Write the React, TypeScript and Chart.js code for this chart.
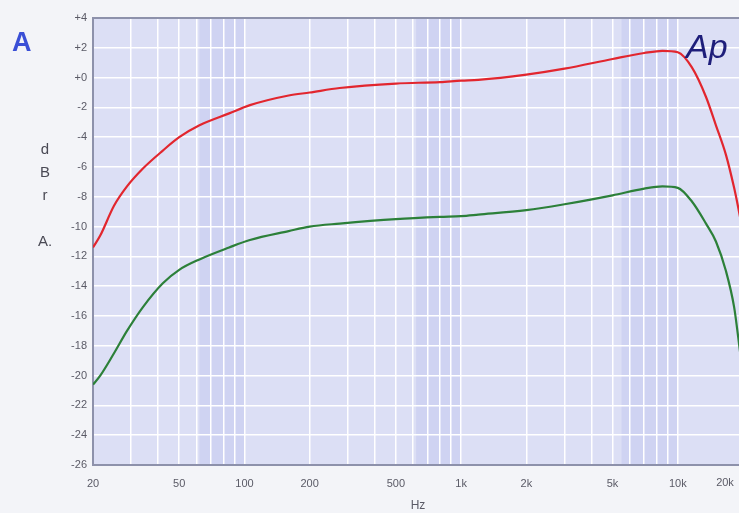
import React, { useEffect, useRef } from 'react';
import { Chart, registerables } from 'chart.js';

Chart.register(...registerables);

// Frequencies (Hz) at which the curves were read
const freqHz = [20, 21.6, 25, 28.7, 34, 42, 50, 62, 85, 106, 160, 200, 275, 500, 800, 1000, 1200, 2000, 3000, 5000, 7000, 8500, 10000, 11600, 13500, 15000, 16700, 18200, 19000, 20000];
// Upper (red) response, dBr A
const redDb = [-11.4, -10.6, -8.6, -7.3, -6.1, -4.9, -4.0, -3.2, -2.4, -1.85, -1.2, -1.0, -0.7, -0.4, -0.3, -0.2, -0.15, 0.2, 0.6, 1.25, 1.65, 1.8, 1.7, 0.7, -1.3, -3.2, -5.2, -7.4, -8.7, -10.4];
// Lower (green) response, dBr A
const greenDb = [-20.6, -20.0, -18.5, -17.0, -15.4, -13.8, -12.9, -12.2, -11.4, -10.9, -10.3, -10.0, -9.8, -9.5, -9.35, -9.3, -9.2, -8.9, -8.5, -7.9, -7.45, -7.3, -7.4, -8.3, -9.8, -11.0, -13.0, -15.4, -17.4, -20.0];

// Axis ticks
const xGridHz = [20, 30, 40, 50, 60, 70, 80, 90, 100, 200, 300, 400, 500, 600, 700, 800, 900, 1000, 2000, 3000, 4000, 5000, 6000, 7000, 8000, 9000, 10000, 20000];
const xLabelHz = [20, 50, 100, 200, 500, 1000, 2000, 5000, 10000];
const xLabelText = ['20', '50', '100', '200', '500', '1k', '2k', '5k', '10k'];
const xLastLabelHz = 20000;
const xLastLabelText = '20k';
const yMin = -26;
const yMax = 4;
const yStep = 2;

// darker shaded frequency bands of the scanned plot background [from, to] Hz
const shadeBandsHz = [[62, 100], [620, 1000], [5500, 10000]];

const unitLetters = ['d', 'B', 'r', '', 'A.'];

const FONT = '"Liberation Sans", Arial, sans-serif';

export default function App() {
  const ref = useRef<HTMLCanvasElement | null>(null);

  useEffect(() => {
    const canvas = ref.current;
    if (!canvas) return;

    const decor = {
      id: 'decor',
      beforeDraw(chart: any) {
        const { ctx, chartArea: a } = chart;
        const xs = chart.scales.x;
        ctx.save();
        ctx.fillStyle = '#dcdff5';
        ctx.fillRect(a.left, a.top, a.right - a.left, a.bottom - a.top);
        ctx.fillStyle = '#cfd3f2';
        shadeBandsHz.forEach(([f0, f1]) => {
          const x0 = xs.getPixelForValue(f0);
          const x1 = xs.getPixelForValue(f1);
          ctx.fillRect(x0, a.top, x1 - x0, a.bottom - a.top);
        });
        ctx.restore();
      },
      beforeDatasetsDraw(chart: any) {
        const { ctx, chartArea: a } = chart;
        ctx.save();
        ctx.strokeStyle = '#8d91ab';
        ctx.lineWidth = 2;
        ctx.strokeRect(a.left, a.top, a.right - a.left, a.bottom - a.top);
        ctx.restore();
      },
      afterDraw(chart: any) {
        const { ctx, chartArea: a } = chart;
        const xs = chart.scales.x;
        ctx.save();
        // last x label, shifted inwards as in the original plot
        ctx.fillStyle = '#5a5a66';
        ctx.font = '11px ' + FONT;
        ctx.textAlign = 'center';
        ctx.textBaseline = 'middle';
        ctx.fillText(xLastLabelText, xs.getPixelForValue(xLastLabelHz) - 18, a.bottom + 18);
        // blue panel letter
        ctx.fillStyle = '#3a4fd6';
        ctx.font = 'bold 27px ' + FONT;
        ctx.textAlign = 'left';
        ctx.textBaseline = 'alphabetic';
        ctx.fillText('A', 12, 51);
        // unit letters
        ctx.fillStyle = '#4a4a55';
        ctx.font = '15px ' + FONT;
        ctx.textAlign = 'center';
        const ys = [154, 177, 200, 222, 246];
        unitLetters.forEach((t, i) => {
          if (t) ctx.fillText(t, 45, ys[i]);
        });
        // Ap logo
        ctx.fillStyle = '#1e1e7a';
        ctx.font = 'italic 34px ' + FONT;
        ctx.textAlign = 'left';
        ctx.fillText('Ap', 686, 58);
        ctx.restore();
      },
    };

    const chart = new Chart(canvas, {
      type: 'line',
      data: {
        datasets: [
          {
            label: 'upper',
            data: freqHz.map((f, i) => ({ x: f, y: redDb[i] })),
            borderColor: '#e2262e',
            borderWidth: 2.2,
            pointRadius: 0,
            cubicInterpolationMode: 'monotone',
            fill: false,
          },
          {
            label: 'lower',
            data: freqHz.map((f, i) => ({ x: f, y: greenDb[i] })),
            borderColor: '#2c8039',
            borderWidth: 2.2,
            pointRadius: 0,
            cubicInterpolationMode: 'monotone',
            fill: false,
          },
        ],
      },
      options: {
        responsive: false,
        animation: false,
        devicePixelRatio: 1,
        layout: { padding: { top: 18, right: 17, left: 0, bottom: 0 } },
        plugins: {
          legend: { display: false },
          tooltip: { enabled: false },
        },
        scales: {
          x: {
            type: 'logarithmic',
            min: 20,
            max: 20000,
            afterBuildTicks: (scale: any) => {
              scale.ticks = xGridHz.map((v) => ({ value: v }));
            },
            afterFit: (scale: any) => {
              scale.height = 48;
              scale.paddingLeft = 0;
              scale.paddingRight = 0;
            },
            ticks: {
              autoSkip: false,
              maxRotation: 0,
              padding: 12,
              color: '#5a5a66',
              font: { family: FONT, size: 11 },
              callback: (value: any) => {
                const idx = xLabelHz.indexOf(Number(value));
                return idx >= 0 ? xLabelText[idx] : '';
              },
            },
            grid: { color: '#ffffff', lineWidth: 1.5, drawTicks: false },
            border: { display: false },
            title: {
              display: true,
              text: 'Hz',
              color: '#5a5a66',
              font: { family: FONT, size: 12 },
              padding: { top: 0, bottom: 0 },
            },
          },
          y: {
            min: yMin,
            max: yMax,
            afterFit: (scale: any) => {
              scale.width = 93;
              scale.paddingTop = 0;
              scale.paddingBottom = 0;
            },
            ticks: {
              stepSize: yStep,
              padding: 6,
              color: '#5a5a66',
              font: { family: FONT, size: 11 },
              callback: (value: any) => {
                const v = Number(value);
                return v >= 0 ? '+' + v : String(v);
              },
            },
            grid: { color: '#ffffff', lineWidth: 1.5, drawTicks: false },
            border: { display: false },
          },
        },
      },
      plugins: [decor],
    } as any);

    return () => chart.destroy();
  }, []);

  return (
    <div
      style={{
        position: 'fixed',
        left: 0,
        top: 0,
        width: 739,
        height: 513,
        overflow: 'hidden',
        background: '#f3f4f8',
      }}
    >
      <canvas ref={ref} width={760} height={513} style={{ display: 'block', width: 760, height: 513 }} />
    </div>
  );
}
